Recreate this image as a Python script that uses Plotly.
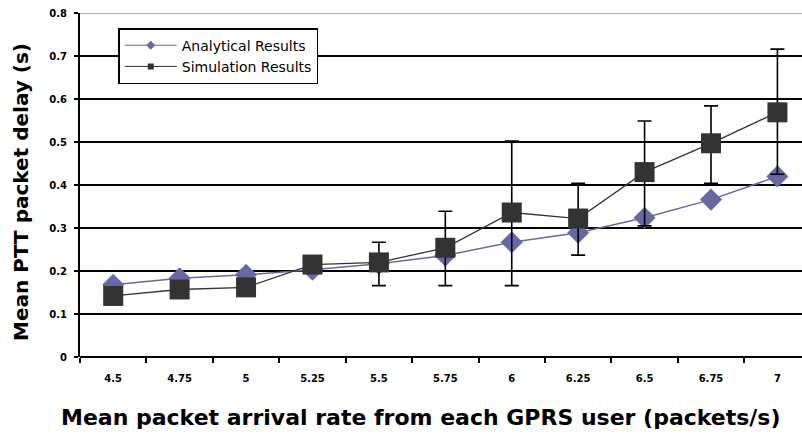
import plotly.graph_objects as go

categories = ["4.5", "4.75", "5", "5.25", "5.5", "5.75", "6", "6.25", "6.5", "6.75", "7"]
analytical = [0.168, 0.183, 0.191, 0.203, 0.217, 0.236, 0.267, 0.289, 0.324, 0.366, 0.420]
simulation = [0.142, 0.157, 0.162, 0.215, 0.220, 0.254, 0.336, 0.322, 0.430, 0.497, 0.569]
sim_upper = [None, None, None, None, 0.267, 0.339, 0.502, 0.404, 0.549, 0.584, 0.716]
sim_lower = [None, None, None, None, 0.166, 0.166, 0.166, 0.237, 0.305, 0.404, 0.425]
y_ticks = [0, 0.1, 0.2, 0.3, 0.4, 0.5, 0.6, 0.7, 0.8]
y_tick_labels = ["0", "0.1", "0.2", "0.3", "0.4", "0.5", "0.6", "0.7", "0.8"]
x_title = "Mean packet arrival rate from each GPRS user (packets/s)"
y_title = "Mean PTT packet delay (s)"

err_plus = [None if u is None else u - s for u, s in zip(sim_upper, simulation)]
err_minus = [None if l is None else s - l for l, s in zip(sim_lower, simulation)]

ana_color = "#6868a4"
sim_color = "#333333"

fig = go.Figure()
fig.add_trace(go.Scatter(
    x=categories, y=analytical, mode="lines+markers", showlegend=False,
    line=dict(color=ana_color, width=1.5),
    marker=dict(symbol="diamond", size=17, color=ana_color),
))
fig.add_trace(go.Scatter(
    x=categories, y=simulation, mode="lines+markers", showlegend=False,
    line=dict(color=sim_color, width=1.3),
    marker=dict(symbol="square", size=20, color=sim_color),
    error_y=dict(type="data", symmetric=False, array=err_plus, arrayminus=err_minus,
                 color="black", thickness=1.6, width=7),
))
# legend entries
fig.add_trace(go.Scatter(
    x=[None], y=[None], mode="lines+markers", name="Analytical Results",
    line=dict(color=ana_color, width=1), marker=dict(symbol="diamond", size=7, color=ana_color),
))
fig.add_trace(go.Scatter(
    x=[None], y=[None], mode="lines+markers", name="Simulation Results",
    line=dict(color=sim_color, width=1), marker=dict(symbol="square", size=6, color=sim_color),
))

fig.add_shape(type="line", xref="paper", yref="y", x0=0, x1=1, y0=0.8, y1=0.8,
              line=dict(color="#999999", width=1.5))

fig.add_annotation(text="<b>" + x_title + "</b>", xref="paper", yref="paper",
                   x=0.472, y=-0.177, xanchor="center", yanchor="middle",
                   showarrow=False, font=dict(size=22, color="black"))
fig.add_annotation(text="<b>" + y_title + "</b>", xref="paper", yref="paper",
                   x=-0.0817, y=0.48, xanchor="center", yanchor="middle", textangle=-90,
                   showarrow=False, font=dict(size=20, color="black"))

fig.update_layout(
    width=802, height=436,
    margin=dict(l=80, r=0, t=13, b=79),
    paper_bgcolor="white", plot_bgcolor="white",
    font=dict(family="DejaVu Sans, Verdana, sans-serif", color="black"),
    showlegend=True,
    legend=dict(
        x=0.053, y=0.956, xanchor="left", yanchor="top",
        bgcolor="white", bordercolor="black", borderwidth=1.5,
        font=dict(size=14, color="black"),
        tracegroupgap=0, itemwidth=52,
    ),
    xaxis=dict(
        type="category", categoryorder="array", categoryarray=categories,
        range=[-0.5, 10.37], tickson="boundaries", automargin=False,
        ticks="outside", ticklen=5, tickwidth=1.5, tickcolor="black",
        ticklabelstandoff=14,
        showgrid=False, showline=False, zeroline=False,
        tickfont=dict(size=10, color="black", weight="bold"),
    ),
    yaxis=dict(
        range=[0, 0.8], tickmode="array", tickvals=y_ticks, ticktext=y_tick_labels,
        automargin=False,
        ticks="outside", ticklen=4, tickwidth=1.5, tickcolor="black",
        ticklabelstandoff=5,
        showgrid=True, gridcolor="black", gridwidth=1.5,
        showline=True, linecolor="black", linewidth=2,
        zeroline=True, zerolinecolor="black", zerolinewidth=2,
        tickfont=dict(size=10, color="black", weight="bold"),
    ),
)

fig.write_html("out.html", config={"displayModeBar": False},
               post_script="document.body.style.margin='0';")
